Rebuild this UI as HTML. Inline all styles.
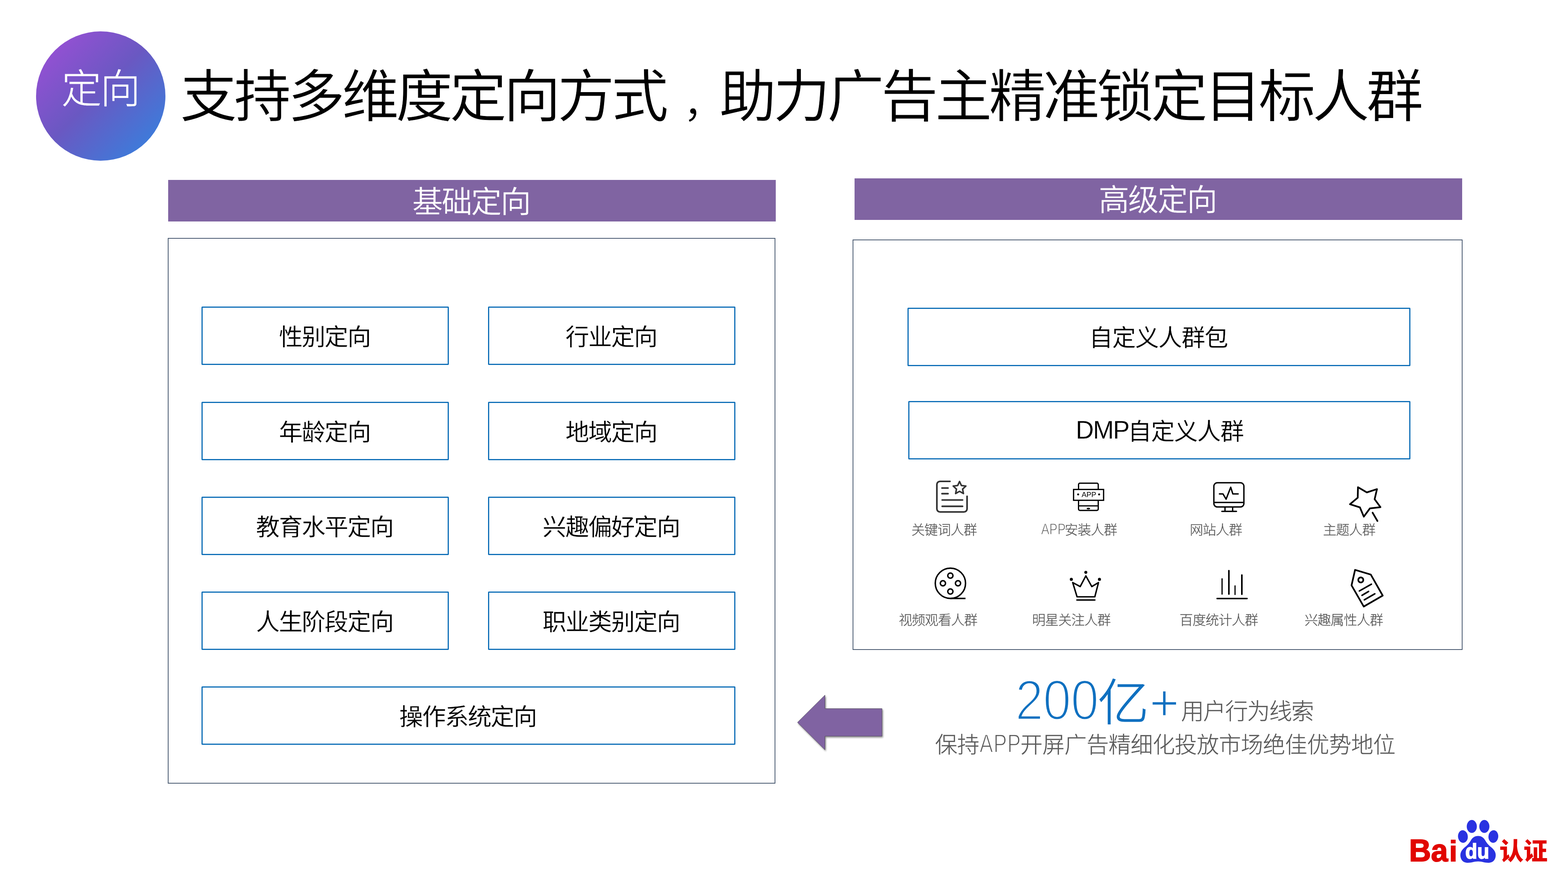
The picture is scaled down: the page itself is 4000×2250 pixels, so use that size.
<!DOCTYPE html>
<html lang="zh-CN">
<head>
<meta charset="utf-8">
<title>支持多维度定向方式，助力广告主精准锁定目标人群</title>
<style>
html,body{margin:0;padding:0;background:#fff;}
body{width:4000px;height:2250px;position:relative;overflow:hidden;
  font-family:"Liberation Sans","Noto Sans CJK SC",sans-serif;color:#000;}
.abs{position:absolute;}
.t{position:absolute;white-space:nowrap;line-height:1;margin:0;padding:0;}
.c{text-align:center;}
/* badge */
#badge{left:92px;top:80px;width:330px;height:330px;border-radius:50%;
  background:linear-gradient(135deg,#9650d4 10%,#6a58c2 48%,#3a7edc 90%);}
#badge-t{left:93px;top:177px;width:330px;font-size:102px;font-weight:300;color:#fff;letter-spacing:-3px;text-indent:-4px;-webkit-text-stroke:.7px #fff;}
/* title */
#title{left:459.5px;top:174.5px;font-size:145.5px;letter-spacing:-7.95px;font-weight:400;-webkit-text-stroke:1px #fff;}
/* bars */
.bar{background:#8064a2;color:#fff;}
.bar .t{left:0;width:100%;font-size:78.6px;letter-spacing:-3.6px;text-indent:-5px;-webkit-text-stroke:.6px #8064a2;}
#barL{left:429px;top:459px;width:1550px;height:106px;}
#barR{left:2180px;top:455px;width:1550px;height:106px;}
/* panels */
.panel{border:2px solid #46576e;box-sizing:border-box;background:#fff;}
#panL{left:428px;top:607px;width:1550px;height:1392px;}
#panR{left:2175px;top:611px;width:1556px;height:1047px;}
/* boxes */
.box{border:3px solid #0d6eb7;box-sizing:border-box;background:#fff;border-radius:2px;}
.box .t{left:0;width:100%;font-size:60.6px;letter-spacing:-2.3px;text-indent:-3px;-webkit-text-stroke:.35px #fff;}
/* icon labels */
.lab{font-size:34.3px;font-weight:300;color:#595959;letter-spacing:-1px;will-change:transform;-webkit-text-stroke:.4px #595959;}

.la{display:inline-block;font-size:38.8px;line-height:0;letter-spacing:0;width:60px;transform:scaleX(.806);transform-origin:0 50%;-webkit-text-stroke:1.2px #fff;position:relative;top:-1px;}
.sub{font-size:58.3px;font-weight:300;color:#595959;letter-spacing:-2.1px;-webkit-text-stroke:.4px #595959;}
#sub1{left:3013px;top:1786px;}
#sub2{left:2385.5px;top:1872.6px;font-size:56.8px;letter-spacing:-.55px;}
.lb{display:inline-block;font-size:64.4px;line-height:0;letter-spacing:1.6px;width:104px;margin-left:1px;transform:scaleX(.795);transform-origin:0 50%;-webkit-text-stroke:2.2px #fff;position:relative;top:-0.8px;}
#title .cm{display:inline-block;transform:translate(41px,-2px) scale(.7);transform-origin:12% 93%;}
.dmp{font-size:63.9px;line-height:0;letter-spacing:-2.1px;position:relative;top:-3.2px;margin-right:-2.5px;}
.big{font-weight:300;color:#0f70c0;}
#dg{left:2590px;top:1713px;font-size:145.5px;letter-spacing:-1px;transform:scaleX(.885);transform-origin:0 50%;-webkit-text-stroke:4.8px #fff;}
#yi{left:2799.5px;top:1730px;font-size:127.7px;transform:scaleX(1.03);transform-origin:0 50%;-webkit-text-stroke:1.2px #0f70c0;}
#pl{left:2932.5px;top:1727.5px;font-size:129.3px;-webkit-text-stroke:3px #fff;}
</style>
</head>
<body>

<div id="badge" class="abs"></div>
<div id="badge-t" class="t c">定向</div>
<h1 id="title" class="t">支持多维度定向方式<span class="cm">，</span>助力广告主精准锁定目标人群</h1>

<div id="barL" class="abs bar"><div class="t c" style="top:18px">基础定向</div></div>
<div id="barR" class="abs bar"><div class="t c" style="top:17.3px">高级定向</div></div>

<div id="panL" class="abs panel"></div>
<div id="panR" class="abs panel"></div>

<!-- left boxes -->
<div class="abs box" style="left:514px;top:782px;width:631px;height:149px"><div class="t c" style="top:45px">性别定向</div></div>
<div class="abs box" style="left:1245px;top:782px;width:631px;height:149px"><div class="t c" style="top:45px">行业定向</div></div>
<div class="abs box" style="left:514px;top:1025px;width:631px;height:149px"><div class="t c" style="top:45px">年龄定向</div></div>
<div class="abs box" style="left:1245px;top:1025px;width:631px;height:149px"><div class="t c" style="top:45px">地域定向</div></div>
<div class="abs box" style="left:514px;top:1267px;width:631px;height:149px"><div class="t c" style="top:45px">教育水平定向</div></div>
<div class="abs box" style="left:1245px;top:1267px;width:631px;height:149px"><div class="t c" style="top:45px">兴趣偏好定向</div></div>
<div class="abs box" style="left:514px;top:1509px;width:631px;height:149px"><div class="t c" style="top:45px">人生阶段定向</div></div>
<div class="abs box" style="left:1245px;top:1509px;width:631px;height:149px"><div class="t c" style="top:45px">职业类别定向</div></div>
<div class="abs box" style="left:514px;top:1751px;width:1362px;height:149px"><div class="t c" style="top:45px">操作系统定向</div></div>

<!-- right boxes -->
<div class="abs box" style="left:2315px;top:784.5px;width:1283px;height:149px"><div class="t c" style="top:44px;left:0px;letter-spacing:-1.7px">自定义人群包</div></div>
<div class="abs box" style="left:2317px;top:1023px;width:1281px;height:149px"><div class="t c" style="top:45px;left:2px;letter-spacing:-1.7px"><span class="dmp">DMP</span>自定义人群</div></div>

<!-- icons -->
<svg class="abs" style="left:0;top:0;will-change:transform" width="4000" height="2250" viewBox="0 0 4000 2250" fill="none" stroke-linecap="round" stroke-linejoin="round">
  <!-- keyword: document + star -->
  <g stroke="#333" stroke-width="4.2">
    <path d="M2423.5 1228 H2398 a8 8 0 0 0 -8 8 V1298 a8 8 0 0 0 8 8 H2459 a8 8 0 0 0 8 -8 V1266"/>
    <path d="M2403 1245 H2418.5 M2403 1259.4 H2418.5 M2403.5 1275.5 H2455.5 M2403.5 1291.7 H2455.5"/>
    <path stroke-width="3.9" d="M2447.8 1228.2 L2452.6 1238.6 L2464.0 1239.9 L2455.6 1247.7 L2457.8 1259.0 L2447.8 1253.4 L2437.8 1259.0 L2440.0 1247.7 L2431.6 1239.9 L2443.0 1238.6 Z"/>
  </g>
  <!-- app install: phone + APP banner -->
  <g stroke="#000" stroke-width="3.2">
    <rect x="2751.4" y="1232.6" width="50.2" height="69.5" rx="3.5"/>
    <path stroke-linecap="butt" d="M2751.4 1290.5 H2801.6"/>
    <rect x="2738.7" y="1248.6" width="76.6" height="27.7" fill="#fff" stroke-linejoin="miter"/>
    <ellipse cx="2776.5" cy="1297.3" rx="4.4" ry="2.1" fill="#000" stroke="none"/>
    <circle cx="2750.4" cy="1261.2" r="2.5" fill="#000" stroke="none"/>
    <circle cx="2803.9" cy="1261.2" r="2.5" fill="#000" stroke="none"/>
  </g>
  <text x="2777.8" y="1268.3" text-anchor="middle" font-family="'Liberation Sans','Noto Sans CJK SC',sans-serif" font-size="18.6" fill="#000" stroke="none">APP</text>
  <!-- website: monitor -->
  <g stroke="#000" stroke-width="3.5">
    <rect x="3096.6" y="1231.5" width="76.6" height="61.8" rx="9"/>
    <path stroke-linecap="butt" d="M3096.6 1281.8 H3173.2 M3125 1294 V1304 M3144.5 1294 V1304"/>
    <path d="M3117 1304.5 H3154.2"/>
    <path d="M3110.8 1260 H3119.8 L3127.8 1273.4 L3139.6 1243 L3145 1260 H3158.6"/>
  </g>
  <!-- theme: star wand -->
  <g stroke="#000" stroke-width="4.3">
    <path d="M3464.2 1242.9 L3486.8 1256.1 L3512.7 1247.8 L3506.7 1273.5 L3521.6 1293.8 L3494.7 1296.9 L3479.1 1318 L3469.2 1294.4 L3443.7 1286.3 L3463.6 1269.6 Z"/>
    <path d="M3501.5 1307.8 L3513.9 1329.2"/>
  </g>
  <!-- video: film reel -->
  <g stroke="#000" stroke-width="3.7">
    <circle cx="2424.5" cy="1488" r="38.6"/>
    <circle cx="2424.4" cy="1468.4" r="6.6"/>
    <circle cx="2405.4" cy="1488" r="6.6"/>
    <circle cx="2443.9" cy="1488" r="6.6"/>
    <circle cx="2424.4" cy="1509" r="6.6"/>
    <path stroke-linecap="butt" d="M2424.5 1526.6 H2463"/>
  </g>
  <!-- star follow: crown -->
  <g stroke="#000" stroke-width="3.7">
    <path d="M2736.5 1486.1 L2755.6 1496.4 L2770 1469.1 L2785.2 1496.4 L2802.3 1486.1 L2792.9 1522.5 H2747.6 Z"/>
    <path d="M2747.2 1530.6 H2793"/>
    <circle cx="2769.9" cy="1460.1" r="3.8" fill="#000" stroke="none"/>
    <circle cx="2733" cy="1477.9" r="3.9" fill="#000" stroke="none"/>
    <circle cx="2804.7" cy="1477.9" r="3.9" fill="#000" stroke="none"/>
  </g>
  <!-- baidu stats: bar chart -->
  <g stroke="#000">
    <path stroke-width="3.7" d="M3104.8 1526.8 H3181.3"/>
    <path stroke-width="3.1" d="M3117.5 1476.5 V1515.6"/>
    <path stroke-width="4" d="M3134.9 1455.8 V1515.5"/>
    <path stroke-width="3" d="M3150.6 1494.5 V1516.6"/>
    <path stroke-width="4" d="M3168 1467 V1516.1"/>
  </g>
  <!-- interest: tag -->
  <g stroke="#000" stroke-width="4.3">
    <path d="M3456.8 1453.8 L3496.9 1465.7 L3527.3 1519.4 L3478.9 1547.3 L3447.8 1493.3 Z"/>
    <circle cx="3471.4" cy="1479.4" r="6.4"/>
    <path stroke-width="3.9" d="M3467.7 1507.6 L3498.5 1490.2 M3474.5 1518.8 L3491.3 1508.8 M3480.4 1530.2 L3507.2 1514.7"/>
  </g>
</svg>
<div class="t lab" id="lab1" style="left:2324.5px;top:1334.5px">关键词人群</div>
<div class="t lab" id="lab2" style="left:2656px;top:1334.5px"><span class="la">APP</span>安装人群</div>
<div class="t lab" id="lab3" style="left:3034.5px;top:1334.5px">网站人群</div>
<div class="t lab" id="lab4" style="left:3375.3px;top:1334.5px">主题人群</div>
<div class="t lab" id="lab5" style="left:2293px;top:1564.5px">视频观看人群</div>
<div class="t lab" id="lab6" style="left:2633.3px;top:1564.5px">明星关注人群</div>
<div class="t lab" id="lab7" style="left:3009px;top:1564.5px">百度统计人群</div>
<div class="t lab" id="lab8" style="left:3328px;top:1564.5px">兴趣属性人群</div>


<!-- arrow -->
<svg class="abs" style="left:2000px;top:1740px;overflow:visible" width="320" height="220" viewBox="2000 1740 320 220">
  <defs><filter id="ash" x="-20%" y="-20%" width="140%" height="150%"><feGaussianBlur in="SourceAlpha" stdDeviation="2.2"/><feOffset dx="1.5" dy="3"/><feComponentTransfer><feFuncA type="linear" slope="0.45"/></feComponentTransfer><feMerge><feMergeNode/><feMergeNode in="SourceGraphic"/></feMerge></filter></defs>
  <path filter="url(#ash)" d="M2034.4 1842.9 L2104.5 1773.2 V1807.7 H2250 V1878 H2104.5 V1912.9 Z" fill="#8064a2" stroke="#4f4a58" stroke-width="1" stroke-linejoin="miter"/>
</svg>


<!-- bottom text -->
<div class="abs" id="big" style="left:0;top:0"><span class="t big" id="dg">200</span><span class="t big" id="yi">亿</span><span class="t big" id="pl">+</span></div>
<div class="t sub" id="sub1">用户行为线索</div>
<div class="t sub" id="sub2">保持<span class="lb">APP</span>开屏广告精细化投放市场绝佳优势地位</div>


<!-- logo -->
<svg class="abs" id="logo" style="left:3580px;top:2080px;overflow:visible" width="400" height="140" viewBox="3580 2080 400 140">
  <g fill="#2932e1">
    <ellipse cx="3731.9" cy="2134" rx="12.5" ry="16" transform="rotate(-6 3731.9 2134)"/>
    <ellipse cx="3754.6" cy="2108.3" rx="12.9" ry="16.5"/>
    <ellipse cx="3786.6" cy="2108.3" rx="12.9" ry="16.5"/>
    <ellipse cx="3809.6" cy="2134" rx="12.5" ry="16" transform="rotate(6 3809.6 2134)"/>
    <path d="M3770.8 2132.5 C3779 2132.5 3785 2137 3789 2144 C3794 2153 3800 2158 3806 2163 C3814 2170 3817 2178 3815 2187 C3813 2196 3806 2201 3797 2201 C3787 2201 3780 2197.5 3770.8 2197.5 C3761 2197.5 3754 2201 3744 2201 C3735 2201 3728 2196 3726 2187 C3724 2178 3727 2170 3735 2163 C3741 2158 3747 2153 3752 2144 C3756 2137 3762 2132.5 3770.8 2132.5 Z"/>
  </g>
  <text id="lg-bai" x="3594.5" y="2196.6" font-family="'Liberation Sans','Noto Sans CJK SC',sans-serif" font-weight="700" font-size="79" fill="#e10601" stroke="#e10601" stroke-width="2.2" textLength="123" lengthAdjust="spacingAndGlyphs">Ba<tspan dx="3.2" font-size="75">i</tspan></text>
  <text id="lg-du" x="3738" y="2189.8" font-family="'Liberation Sans','Noto Sans CJK SC',sans-serif" font-weight="700" font-size="53" fill="#fff" stroke="#fff" stroke-width="2" textLength="61" lengthAdjust="spacingAndGlyphs">du</text>
  <text id="lg-rz" x="3825" y="2193.5" font-family="'Liberation Sans','Noto Sans CJK SC',sans-serif" font-weight="900" font-size="62" fill="#e10601" textLength="123" lengthAdjust="spacingAndGlyphs">认证</text>
</svg>


</body>
</html>
